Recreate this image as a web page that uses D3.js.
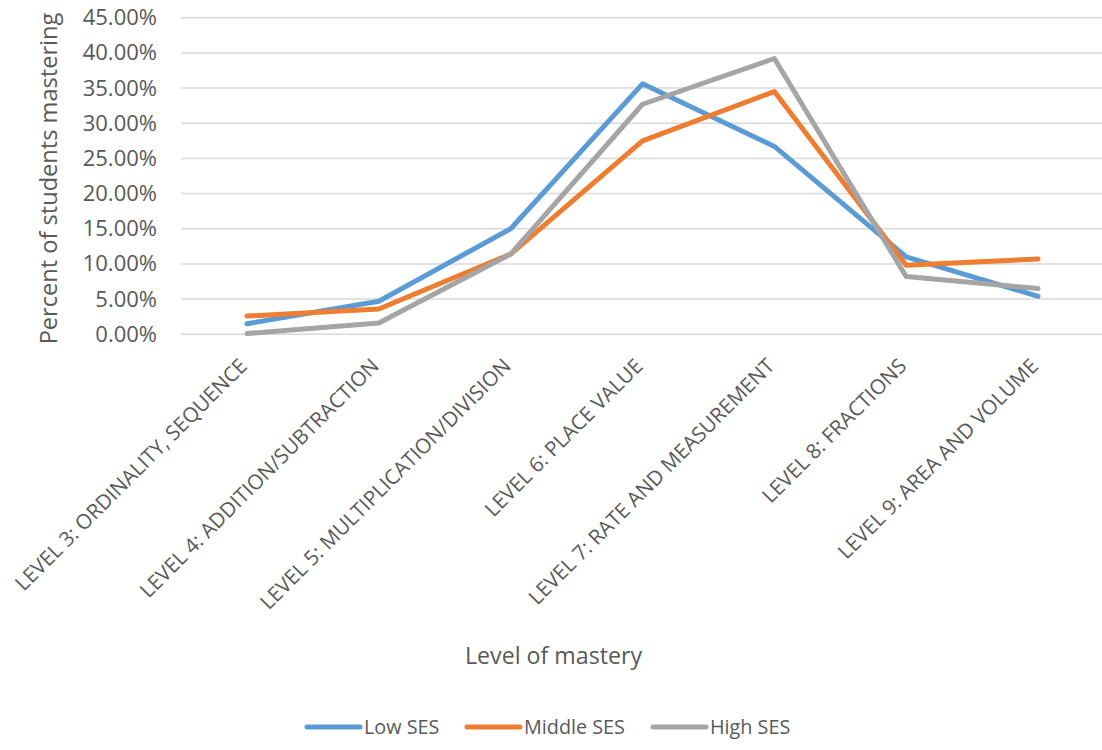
<!DOCTYPE html>
<html>
<head>
<meta charset="utf-8">
<script src="https://cdn.jsdelivr.net/npm/d3@7"></script>
<style>
  html, body { margin: 0; padding: 0; background: #fff; }
  svg text { font-family: "Open Sans", "Noto Sans", sans-serif; fill: #595959; }
</style>
</head>
<body>
<svg id="chart" width="1102" height="750"></svg>
<script>
// Mastery levels on the x axis
const levels = [
  "LEVEL 3: ORDINALITY, SEQUENCE",
  "LEVEL 4: ADDITION/SUBTRACTION",
  "LEVEL 5: MULTIPLICATION/DIVISION",
  "LEVEL 6: PLACE VALUE",
  "LEVEL 7: RATE AND MEASUREMENT",
  "LEVEL 8: FRACTIONS",
  "LEVEL 9: AREA AND VOLUME"
];

// Share of students mastering each level, by socio-economic status
const lowSES    = [0.015, 0.047, 0.150, 0.356, 0.267, 0.110, 0.054];
const middleSES = [0.026, 0.036, 0.114, 0.275, 0.345, 0.098, 0.107];
const highSES   = [0.001, 0.016, 0.114, 0.327, 0.392, 0.082, 0.065];

const seriesNames  = ["Low SES", "Middle SES", "High SES"];
const seriesColors = ["#5b9bd5", "#ed7d31", "#a5a5a5"];
const yTicks = [0, 0.05, 0.10, 0.15, 0.20, 0.25, 0.30, 0.35, 0.40, 0.45];

const series = [lowSES, middleSES, highSES].map((vals, i) => ({
  name: seriesNames[i], color: seriesColors[i], values: vals
}));

const svg = d3.select("#chart");
const margin = { left: 181, right: 1104, top: 17.7, bottom: 334.3 };

const x = d3.scalePoint()
  .domain(levels)
  .range([margin.left, margin.right])
  .padding(0.5);

const y = d3.scaleLinear()
  .domain([0, 0.45])
  .range([margin.bottom, margin.top]);

// Horizontal gridlines
svg.append("g")
  .selectAll("line")
  .data(yTicks)
  .join("line")
  .attr("x1", margin.left)
  .attr("x2", margin.right)
  .attr("y1", d => y(d))
  .attr("y2", d => y(d))
  .attr("stroke", "#d9d9d9")
  .attr("stroke-width", 1.5);

// Y axis tick labels
const yAxis = d3.axisLeft(y)
  .tickValues(yTicks)
  .tickFormat(d3.format(".2%"))
  .tickSize(0)
  .tickPadding(0);

const yg = svg.append("g")
  .attr("transform", `translate(157,0)`)
  .call(yAxis);
yg.select(".domain").remove();
yg.selectAll("text")
  .attr("font-size", 22)
  .attr("font-family", null)
  .attr("fill", "#595959");

// X axis category labels, rotated
const xAxis = d3.axisBottom(x).tickSize(0).tickPadding(0);
const xg = svg.append("g")
  .attr("transform", `translate(0,${margin.bottom})`)
  .call(xAxis);
xg.select(".domain").remove();
xg.selectAll("text")
  .attr("font-size", 20.6)
  .attr("font-family", null)
  .attr("fill", "#595959")
  .attr("text-anchor", "end")
  .attr("dy", null)
  .attr("y", 0)
  .attr("transform", "translate(1,33) rotate(-45)");

// Series lines
const line = d3.line()
  .x((d, i) => x(levels[i]))
  .y(d => y(d));

svg.append("g")
  .selectAll("path")
  .data(series)
  .join("path")
  .attr("d", d => line(d.values))
  .attr("fill", "none")
  .attr("stroke", d => d.color)
  .attr("stroke-width", 5)
  .attr("stroke-linejoin", "round")
  .attr("stroke-linecap", "round");

// Axis titles
svg.append("text")
  .attr("transform", "translate(57,178.5) rotate(-90)")
  .attr("text-anchor", "middle")
  .attr("font-size", 23.6)
  .text("Percent of students mastering");

svg.append("text")
  .attr("x", 553.5)
  .attr("y", 664)
  .attr("text-anchor", "middle")
  .attr("font-size", 23.2)
  .text("Level of mastery");

// Legend
const legendX = [307, 467, 653];
const lg = svg.append("g");
series.forEach((s, i) => {
  lg.append("line")
    .attr("x1", legendX[i]).attr("x2", legendX[i] + 53)
    .attr("y1", 727).attr("y2", 727)
    .attr("stroke", s.color)
    .attr("stroke-width", 5)
    .attr("stroke-linecap", "round");
  lg.append("text")
    .attr("x", legendX[i] + 57)
    .attr("y", 734)
    .attr("font-size", 19.8)
    .text(s.name);
});
</script>
</body>
</html>
